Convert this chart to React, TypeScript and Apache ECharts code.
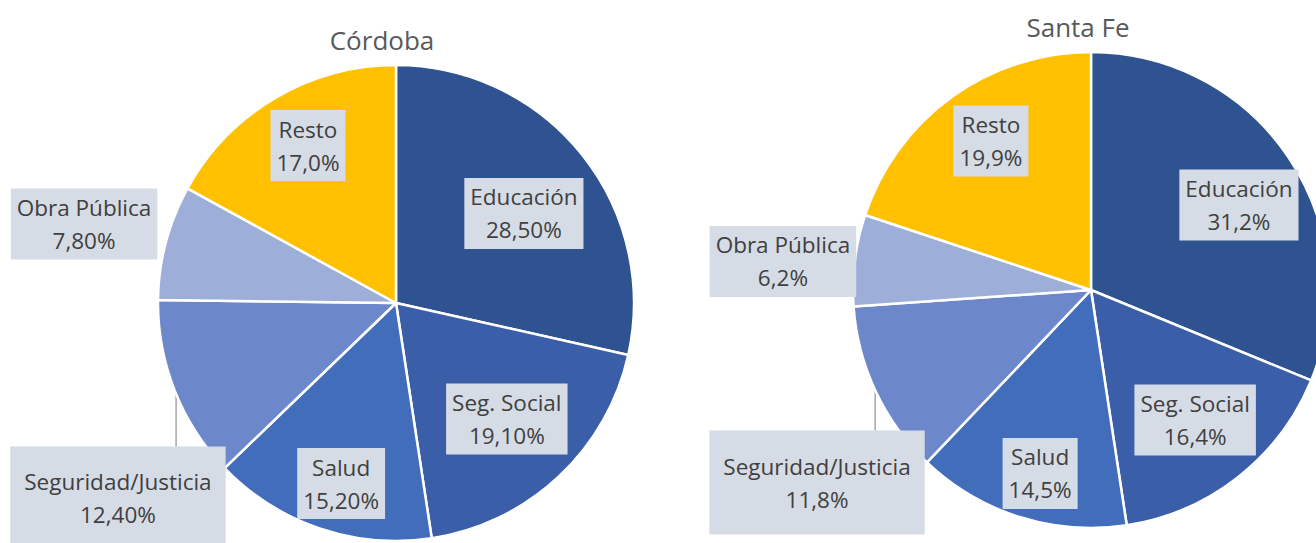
import React, { useEffect, useRef } from "react";
import * as echarts from "echarts";

const categories = ["Educación", "Seg. Social", "Salud", "Seguridad/Justicia", "Obra Pública", "Resto"];
const cordobaValues = [28.5, 19.1, 15.2, 12.4, 7.8, 17.0];
const santaFeValues = [31.2, 16.4, 14.5, 11.8, 6.2, 19.9];
const cordobaLabels = ["28,50%", "19,10%", "15,20%", "12,40%", "7,80%", "17,0%"];
const santaFeLabels = ["31,2%", "16,4%", "14,5%", "11,8%", "6,2%", "19,9%"];
const titles = ["Córdoba", "Santa Fe"];

const sliceColors = ["#2F5290", "#3A5EA8", "#416DBB", "#6D88CA", "#9DAED8", "#FFC000"];
const FONT = "'Open Sans', 'Liberation Sans', sans-serif";

// layout: pie centre, radius, title anchor, label polar placement [radius ratio, angle clockwise from top]
const layouts = [
  {
    center: [396, 303], radius: 238, title: [382, 40],
    labelPolar: [[0.656, 55.0], [0.674, 136.3], [0.793, 196.9], [1.428, 234.9], [1.352, 284.2], [0.758, 330.8]],
  },
  {
    center: [1091, 290], radius: 238, title: [1078, 27],
    labelPolar: [[0.717, 60.1], [0.70, 141.3], [0.80, 195.5], [1.407, 234.9], [1.30, 275.3], [0.754, 326.1]],
  },
];

function buildSeries(values: number[], labels: string[], L: any) {
  const [cx, cy] = L.center;
  const r = L.radius;
  return {
    type: "pie",
    center: L.center,
    radius: r,
    startAngle: 90,
    clockwise: true,
    avoidLabelOverlap: false,
    emphasis: { disabled: true },
    itemStyle: { borderColor: "#FFFFFF", borderWidth: 2.5 },
    label: {
      show: true,
      position: "inside",
      formatter: (p: any) => `${p.name}\n${labels[p.dataIndex]}`,
      fontFamily: FONT,
      fontSize: 22.5,
      lineHeight: 33,
      color: "#404040",
      textBorderWidth: 0,
      backgroundColor: "#D6DCE5",
      padding: [3, 6, 2, 6],
      align: "center",
    },
    labelLine: { show: false },
    data: categories.map((name, i) => ({
      name,
      value: values[i],
      itemStyle: { color: sliceColors[i] },
      ...(i === 3
        ? {
            label: { position: "outside", padding: [19, 14, 19, 14] },
            labelLine: { show: true, lineStyle: { color: "#A6A6A6", width: 1.5 } },
          }
        : {}),
    })),
    labelLayout: (params: any) => {
      const i = params.dataIndex;
      const [ratio, ang] = L.labelPolar[i];
      const a = (ang * Math.PI) / 180;
      const x = cx + ratio * r * Math.sin(a);
      const y = cy - ratio * r * Math.cos(a);
      const res: any = { x, y, align: "center", verticalAlign: "middle" };
      if (i === 3) {
        const w = params.labelRect.width;
        const h = params.labelRect.height;
        const lx = x - w / 2 + 0.77 * w;
        const dx = lx - cx;
        const ey = cy + Math.sqrt(Math.max(0, r * r - dx * dx));
        res.labelLinePoints = [
          [lx, ey],
          [lx, y - h / 2],
        ];
      }
      return res;
    },
  };
}

export default function App() {
  const ref = useRef<HTMLDivElement>(null);
  useEffect(() => {
    if (!ref.current) return;
    const chart = echarts.init(ref.current, null, { renderer: "svg" });
    chart.setOption({
      animation: false,
      backgroundColor: "#FFFFFF",
      graphic: titles.map((t, i) => ({
        type: "text",
        x: layouts[i].title[0],
        y: layouts[i].title[1],
        style: {
          text: t,
          align: "center",
          verticalAlign: "middle",
          fontFamily: FONT,
          fontSize: 26,
          fill: "#595959",
        },
      })),
      series: [
        buildSeries(cordobaValues, cordobaLabels, layouts[0]),
        buildSeries(santaFeValues, santaFeLabels, layouts[1]),
      ],
    });
    return () => chart.dispose();
  }, []);
  return (
    <div
      ref={ref}
      style={{ position: "fixed", left: 0, top: 0, width: 1316, height: 543 }}
    />
  );
}
